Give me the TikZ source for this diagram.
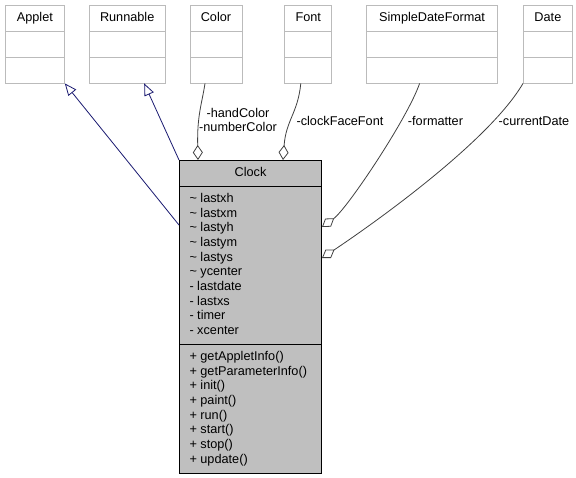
\documentclass[tikz,border=0pt]{standalone}
\usepackage{fontspec}
\setmainfont{Liberation Sans}
\usetikzlibrary{shapes.multipart, arrows.meta, positioning, calc}
\definecolor{edgeblue}{HTML}{191970}
\definecolor{edgegray}{HTML}{404040}
\definecolor{boxgray}{HTML}{BFBFBF}
\definecolor{framegray}{HTML}{BBBBBB}
\newcommand{\memberlist}[1]{\begin{tabular}{@{}p{122pt}@{}}#1\end{tabular}}

\begin{document}
\begin{tikzpicture}[x=1pt, y=-1pt, node distance=24pt]
    \tikzstyle{umlclass} = [draw=framegray, line width=0.8pt, fill=white, rectangle split, rectangle split parts=3, inner xsep=6pt, inner ysep=5.2pt, font=\fontsize{12.7}{14.67}\selectfont]
    \tikzstyle{lbl} = [font=\fontsize{12.7}{14}\selectfont, align=center, inner sep=0pt]
    \tikzset{inherit/.style = {draw=edgeblue, line width=0.8pt, -{Triangle[open, length=12pt, width=10pt]}}}
    \tikzset{aggr/.style = {draw=edgegray, line width=0.8pt, {Diamond[open, length=15pt, width=10pt]}-}}

    \useasboundingbox (0,0) rectangle (576,477);

    % Used classes
    \node[umlclass, minimum width=59pt, anchor=north west] (applet) at (5,5) {\strut Applet\nodepart{two}\strut\nodepart{three}\strut};
    \node[umlclass, minimum width=76pt, right=24pt of applet] (runnable) {\strut Runnable\nodepart{two}\strut\nodepart{three}\strut};
    \node[umlclass, minimum width=52pt, right=24pt of runnable] (color) {\strut Color\nodepart{two}\strut\nodepart{three}\strut};
    \node[umlclass, minimum width=47pt, right=42pt of color] (font) {\strut Font\nodepart{two}\strut\nodepart{three}\strut};
    \node[umlclass, minimum width=131pt, right=34pt of font] (sdf) {\strut SimpleDateFormat\nodepart{two}\strut\nodepart{three}\strut};
    \node[umlclass, minimum width=49pt, right=25pt of sdf] (date) {\strut Date\nodepart{two}\strut\nodepart{three}\strut};

    % The class itself
    \node[umlclass, draw=black, fill=boxgray, line width=1pt, inner xsep=10pt, anchor=north west] (clock) at (179,160) {\memberlist{\centering Clock}
        \nodepart{two}\memberlist{\textasciitilde{} lastxh\\ \textasciitilde{} lastxm\\ \textasciitilde{} lastyh\\ \textasciitilde{} lastym\\ \textasciitilde{} lastys\\ \textasciitilde{} ycenter\\ - lastdate\\ - lastxs\\ - timer\\ - xcenter}
        \nodepart{three}\memberlist{+ getAppletInfo()\\ + getParameterInfo()\\ + init()\\ + paint()\\ + run()\\ + start()\\ + stop()\\ + update()}};

    % Inheritance
    \draw[inherit] ($(clock.north west)+(0,65)$) -- (applet.south east);
    \draw[inherit] (clock.north west) -- ($(runnable.south)+(17,0)$);

    % Usage
    \draw[aggr] ($(clock.north west)+(19,0)$) .. controls +(-1,-45) and +(-3,20) .. ($(color.south)+(-11,0)$);
    \draw[aggr] ($(clock.north west)+(104,0)$) .. controls +(3,-40) and +(-3,30) .. ($(font.south)+(-7.5,0)$);
    \draw[aggr] ($(clock.north east)+(0,67)$) .. controls +(25,-18) and +(-12,35) .. ($(sdf.south)+(-12.5,0)$);
    \draw[aggr] ($(clock.north east)+(0,98)$) .. controls +(45,-30) and +(-35,60) .. (date.south west);

    % Role names
    \node[lbl] (handlbl) at (238,120) {-handColor\\-numberColor};
    \node[lbl] (fontlbl) at (340,121) {-clockFaceFont};
    \node[lbl] (fmtlbl) at (435.5,121) {-formatter};
    \node[lbl] (datelbl) at (534,121) {-currentDate};
\end{tikzpicture}
\end{document}
